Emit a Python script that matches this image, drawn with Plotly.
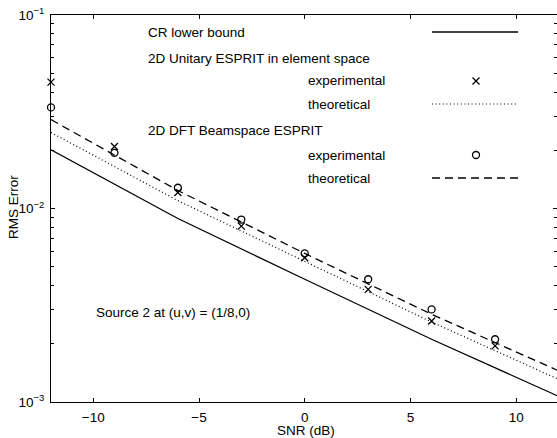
import plotly.graph_objects as go

# ---- data ----
snr_theory = [-12, -6, 0, 6, 12]
crb = [0.0201, 0.00888, 0.00431, 0.00211, 0.00107]
unitary_theory = [0.0247, 0.01098, 0.00533, 0.00259, 0.00131]
beamspace_theory = [0.0288, 0.01239, 0.00586, 0.00284, 0.00145]

snr_exp = [-12, -9, -6, -3, 0, 3, 6, 9]
unitary_exp = [0.0450, 0.0209, 0.0121, 0.00811, 0.00557, 0.00382, 0.00262, 0.00195]
beamspace_exp = [0.0333, 0.0194, 0.0128, 0.00877, 0.00586, 0.00431, 0.00301, 0.00211]

x_ticks = [-10, -5, 0, 5, 10]
x_ticktext = ["\u221210", "\u22125", "0", "5", "10"]
y_major = [1e-3, 1e-2, 1e-1]
y_major_text = ["10<sup>\u22123</sup>", "10<sup>\u22122</sup>", "10<sup>\u22121</sup>"]
y_minor = [m * d for d in (1e-3, 1e-2) for m in range(2, 10)]

FONT = "Liberation Sans, Arial, Helvetica, sans-serif"
FS = 13.5
W, H = 557, 438
ML, MR, MT, MB = 51, 0, 15, 36

fig = go.Figure()

# theory lines
fig.add_trace(go.Scatter(x=snr_theory, y=crb, mode="lines",
                         line=dict(color="black", width=1.3), showlegend=False))
fig.add_trace(go.Scatter(x=snr_theory, y=unitary_theory, mode="lines",
                         line=dict(color="black", width=1.2, dash="1px,2.6px"), showlegend=False))
fig.add_trace(go.Scatter(x=snr_theory, y=beamspace_theory, mode="lines",
                         line=dict(color="black", width=1.3, dash="8px,5px"), showlegend=False))
# experimental markers
fig.add_trace(go.Scatter(x=snr_exp, y=unitary_exp, mode="markers", cliponaxis=False,
                         marker=dict(symbol="x-thin-open", size=7, color="black",
                                     line=dict(color="black", width=1.3)), showlegend=False))
fig.add_trace(go.Scatter(x=snr_exp, y=beamspace_exp, mode="markers", cliponaxis=False,
                         marker=dict(symbol="circle-open", size=7, color="black",
                                     line=dict(color="black", width=1.3)), showlegend=False))

# ---- in-plot legend (overlay axis in 0..1 plot fractions) ----
def px2fx(px):
    return (px - ML) / (W - ML - MR)

def py2fy(py):
    return (H - MB - py) / (H - MT - MB)

sx0, sx1 = px2fx(432), px2fx(518)
mx = px2fx(476)
fig.add_trace(go.Scatter(x=[sx0, sx1], y=[py2fy(32)] * 2, xaxis="x2", yaxis="y2", mode="lines",
                         line=dict(color="black", width=1.3), showlegend=False))
fig.add_trace(go.Scatter(x=[mx], y=[py2fy(81)], xaxis="x2", yaxis="y2", mode="markers",
                         marker=dict(symbol="x-thin-open", size=7, color="black",
                                     line=dict(color="black", width=1.3)), showlegend=False))
fig.add_trace(go.Scatter(x=[sx0, sx1], y=[py2fy(104)] * 2, xaxis="x2", yaxis="y2", mode="lines",
                         line=dict(color="black", width=1.2, dash="1px,2.6px"), showlegend=False))
fig.add_trace(go.Scatter(x=[mx], y=[py2fy(155)], xaxis="x2", yaxis="y2", mode="markers",
                         marker=dict(symbol="circle-open", size=7, color="black",
                                     line=dict(color="black", width=1.3)), showlegend=False))
fig.add_trace(go.Scatter(x=[sx0, sx1], y=[py2fy(178)] * 2, xaxis="x2", yaxis="y2", mode="lines",
                         line=dict(color="black", width=1.3, dash="8px,5px"), showlegend=False))

texts = [
    ("CR lower bound", 146, 33),
    ("2D Unitary ESPRIT in element space", 146, 58),
    ("experimental", 306, 81),
    ("theoretical", 306, 105),
    ("2D DFT Beamspace ESPRIT", 146, 130),
    ("experimental", 306, 155),
    ("theoretical", 306, 178),
    ("Source 2 at (u,v) = (1/8,0)", 94, 312),
]
annotations = []
for t, px, py in texts:
    annotations.append(dict(text=t, x=px2fx(px), y=py2fy(py), xref="paper", yref="paper",
                            xanchor="left", yanchor="middle", showarrow=False,
                            font=dict(family=FONT, size=FS, color="black")))
annotations.append(dict(text="RMS Error", x=px2fx(13), y=py2fy(207), xref="paper", yref="paper",
                        xanchor="center", yanchor="middle", textangle=-90, showarrow=False,
                        font=dict(family=FONT, size=FS, color="black")))
annotations.append(dict(text="SNR (dB)", x=px2fx(306), y=py2fy(430), xref="paper", yref="paper",
                        xanchor="center", yanchor="middle", showarrow=False,
                        font=dict(family=FONT, size=FS, color="black")))

fig.update_layout(
    width=W, height=H,
    margin=dict(l=ML, r=MR, t=MT, b=MB, pad=0),
    paper_bgcolor="white", plot_bgcolor="white",
    font=dict(family=FONT, size=FS, color="black"),
    annotations=annotations,
    xaxis=dict(range=[-12, 11.93], tickvals=x_ticks, ticktext=x_ticktext,
               ticks="inside", ticklen=4, tickcolor="black", showline=True, linecolor="black",
               linewidth=1.2, mirror="allticks", showgrid=False, zeroline=False,
               tickfont=dict(family=FONT, size=FS, color="black"), ticklabelstandoff=3),
    yaxis=dict(type="log", range=[-3, -1], tickvals=y_major, ticktext=y_major_text,
               ticks="inside", ticklen=4, tickcolor="black", showline=True, linecolor="black",
               linewidth=1.2, mirror="allticks", showgrid=False, zeroline=False,
               minor=dict(tickvals=y_minor, ticks="inside", ticklen=3, tickcolor="black", showgrid=False),
               tickfont=dict(family=FONT, size=FS, color="black"), ticklabelstandoff=3),
    xaxis2=dict(overlaying="x", range=[0, 1], visible=False),
    yaxis2=dict(overlaying="y", range=[0, 1], visible=False),
)

fig.write_html("out.html", config={"displayModeBar": False},
               post_script="document.body.style.margin='0';document.body.style.overflow='hidden';")
